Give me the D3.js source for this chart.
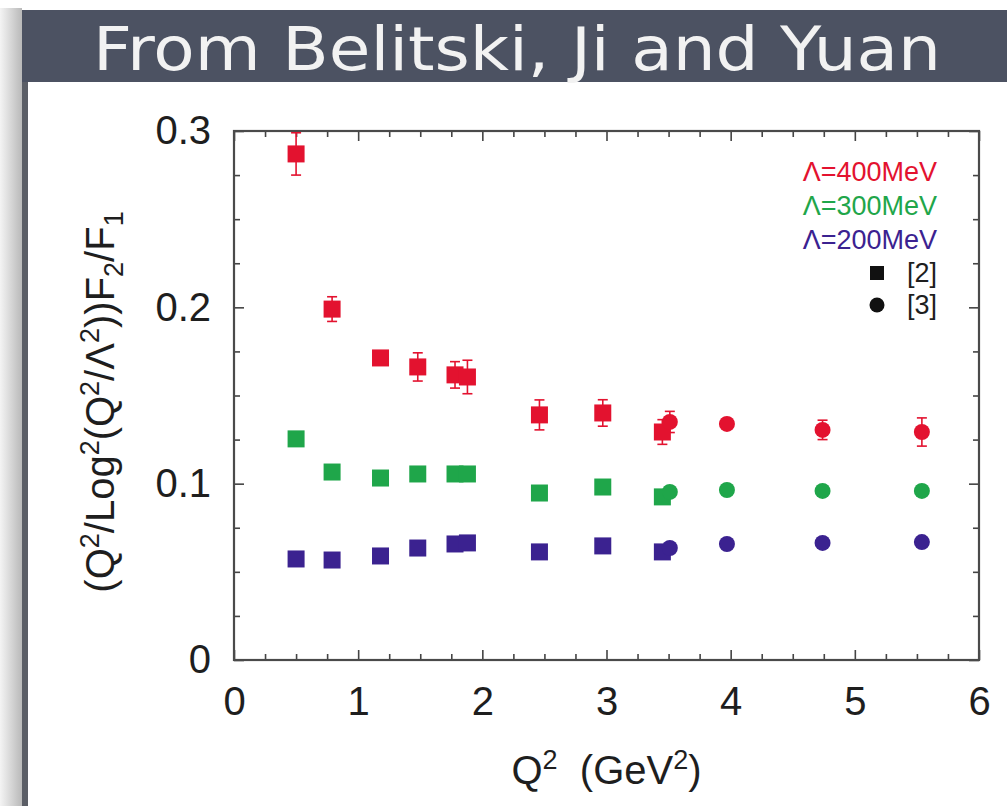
<!DOCTYPE html>
<html>
<head>
  <meta charset="utf-8">
  <script src="https://d3js.org/d3.v7.min.js"></script>
  <style>
    body { margin: 0; background: #fff; }
    svg text { font-family: "Liberation Sans", Arial, sans-serif; }
    .axis text { font-size: 40px; fill: #1e1e1e; }
    .axis path { display: none; }
    .axis line { stroke: #444; stroke-width: 1.6; }
  </style>
</head>
<body>
<div id="chart"></div>
<script>
  // --- data ---
  const xTicks = [0, 1, 2, 3, 4, 5, 6];
  const yTicks = [0, 0.1, 0.2, 0.3];

  // Q^2 positions: squares = ref [2], circles = ref [3]
  const qSquare = [0.5, 0.79, 1.18, 1.48, 1.78, 1.88, 2.46, 2.97, 3.45];
  const qCircle = [3.51, 3.97, 4.74, 5.54];

  const lam400Sq = [0.287, 0.199, 0.1713, 0.1662, 0.1617, 0.1605, 0.139, 0.1401, 0.1293];
  const lam400SqErr = [0.012, 0.007, 0.003, 0.008, 0.0075, 0.0095, 0.0085, 0.0075, 0.007];
  const lam400Ci = [0.135, 0.1339, 0.1305, 0.1293];
  const lam400CiErr = [0.006, 0.003, 0.0055, 0.008];

  const lam300Sq = [0.1254, 0.1066, 0.1032, 0.1055, 0.1055, 0.1055, 0.0947, 0.0981, 0.0925];
  const lam300SqErr = [0.003, 0.002, 0.002, 0.002, 0.002, 0.004, 0.003, 0.002, 0.003];
  const lam300Ci = [0.0953, 0.0964, 0.0959, 0.0959];
  const lam300CiErr = [0.003, 0.002, 0.002, 0.003];

  const lam200Sq = [0.0573, 0.0567, 0.059, 0.0635, 0.0658, 0.0664, 0.0613, 0.0647, 0.0613];
  const lam200SqErr = [0.001, 0.001, 0.001, 0.001, 0.001, 0.001, 0.001, 0.001, 0.001];
  const lam200Ci = [0.0635, 0.0658, 0.0664, 0.0669];
  const lam200CiErr = [0.001, 0.001, 0.001, 0.001];

  const seriesNames = ["\u039B=400MeV", "\u039B=300MeV", "\u039B=200MeV"];
  const seriesColors = ["#e3122f", "#1fa64a", "#3b2290"];

  const width = 1007, height = 806;
  const margin = { top: 131, right: 28, bottom: 146, left: 234 };

  const svg = d3.select("#chart").append("svg")
    .attr("width", width)
    .attr("height", height);

  // slide decoration: left shadow, frame edge, title bar
  const grad = svg.append("defs").append("linearGradient")
    .attr("id", "shade").attr("x1", 0).attr("x2", 1);
  grad.append("stop").attr("offset", 0).attr("stop-color", "#f4f4f4");
  grad.append("stop").attr("offset", 1).attr("stop-color", "#b9b9b9");
  svg.append("rect").attr("x", 0).attr("y", 8).attr("width", 22).attr("height", height - 8)
    .attr("fill", "url(#shade)");
  svg.append("rect").attr("x", 22).attr("y", 10).attr("width", 6).attr("height", height - 10)
    .attr("fill", "#5b5e66");
  svg.append("rect").attr("x", 22).attr("y", 10).attr("width", width - 22).attr("height", 72)
    .attr("fill", "#4c5262");
  svg.append("text")
    .attr("x", 93).attr("y", 70)
    .attr("textLength", 848).attr("lengthAdjust", "spacingAndGlyphs")
    .style("font-family", "'DejaVu Sans', sans-serif")
    .style("font-size", "60px")
    .style("fill", "#f2f2f2")
    .text("From Belitski, Ji and Yuan");

  const w = width - margin.left - margin.right;
  const h = height - margin.top - margin.bottom;

  const g = svg.append("g").attr("transform", "translate(" + margin.left + "," + margin.top + ")");

  const x = d3.scaleLinear().domain([0, 6]).range([0, w]);
  const y = d3.scaleLinear().domain([0, 0.3]).range([h, 0]);

  const xMinor = d3.range(0, 6.001, 0.25).filter(v => Math.abs(v - Math.round(v)) > 1e-6);
  const yMinor = d3.range(0, 0.3001, 0.025).filter(v => Math.abs(v * 10 - Math.round(v * 10)) > 1e-6);

  // inward ticks on all four sides
  g.append("g").attr("class", "axis").attr("transform", "translate(0," + h + ")")
    .call(d3.axisBottom(x).tickValues(xTicks).tickSize(-10).tickPadding(27).tickFormat(d3.format("d")));
  g.append("g").attr("class", "axis").attr("transform", "translate(0," + h + ")")
    .call(d3.axisBottom(x).tickValues(xMinor).tickSize(-6).tickFormat(""));
  g.append("g").attr("class", "axis")
    .call(d3.axisTop(x).tickValues(xTicks).tickSize(-10).tickFormat(""));
  g.append("g").attr("class", "axis")
    .call(d3.axisTop(x).tickValues(xMinor).tickSize(-6).tickFormat(""));

  g.append("g").attr("class", "axis")
    .call(d3.axisLeft(y).tickValues(yTicks).tickSize(-10).tickPadding(23)
      .tickFormat(d => d === 0 ? "0" : d.toFixed(1)));
  g.append("g").attr("class", "axis")
    .call(d3.axisLeft(y).tickValues(yMinor).tickSize(-6).tickFormat(""));
  g.append("g").attr("class", "axis").attr("transform", "translate(" + w + ",0)")
    .call(d3.axisRight(y).tickValues(yTicks).tickSize(-10).tickFormat(""));
  g.append("g").attr("class", "axis").attr("transform", "translate(" + w + ",0)")
    .call(d3.axisRight(y).tickValues(yMinor).tickSize(-6).tickFormat(""));

  g.append("rect").attr("width", w).attr("height", h)
    .attr("fill", "none").attr("stroke", "#4a4a4a").attr("stroke-width", 2.2);

  // axis titles
  const xl = svg.append("text")
    .attr("x", margin.left + x(3)).attr("y", 784)
    .attr("text-anchor", "middle")
    .style("font-size", "40px").style("fill", "#1e1e1e");
  xl.append("tspan").text("Q");
  xl.append("tspan").attr("dy", -15).style("font-size", "27px").text("2");
  xl.append("tspan").attr("dy", 15).text("\u00A0 (GeV");
  xl.append("tspan").attr("dy", -15).style("font-size", "27px").text("2");
  xl.append("tspan").attr("dy", 15).text(")");

  const yl = svg.append("text")
    .attr("transform", "translate(114,402) rotate(-90)")
    .attr("text-anchor", "middle")
    .style("font-size", "40px").style("fill", "#1e1e1e");
  // -1 = superscript, 1 = subscript
  const parts = [["(Q", 0], ["2", -1], ["/Log", 0], ["2", -1], ["(Q", 0], ["2", -1],
    ["/\u039B", 0], ["2", -1], ["))F", 0], ["2", 1], ["/F", 0], ["1", 1]];
  let level = 0;
  parts.forEach(p => {
    const shift = p[1] === -1 ? -15 : p[1] * 9;
    yl.append("tspan")
      .attr("dy", shift - level)
      .style("font-size", p[1] === 0 ? "40px" : "27px")
      .text(p[0]);
    level = shift;
  });

  // data groups
  const groups = [
    { sq: lam400Sq, sqErr: lam400SqErr, ci: lam400Ci, ciErr: lam400CiErr, color: seriesColors[0] },
    { sq: lam300Sq, sqErr: lam300SqErr, ci: lam300Ci, ciErr: lam300CiErr, color: seriesColors[1] },
    { sq: lam200Sq, sqErr: lam200SqErr, ci: lam200Ci, ciErr: lam200CiErr, color: seriesColors[2] }
  ];

  const cap = 5;
  groups.forEach(s => {
    const sqPts = qSquare.map((q, i) => ({ q: q, v: s.sq[i], e: s.sqErr[i] }));
    const ciPts = qCircle.map((q, i) => ({ q: q, v: s.ci[i], e: s.ciErr[i] }));
    const all = sqPts.concat(ciPts);
    const eg = g.append("g").attr("stroke", s.color).attr("stroke-width", 1.6);
    eg.selectAll("line.bar").data(all).enter().append("line")
      .attr("x1", d => x(d.q)).attr("x2", d => x(d.q))
      .attr("y1", d => y(d.v - d.e)).attr("y2", d => y(d.v + d.e));
    eg.selectAll("line.top").data(all).enter().append("line")
      .attr("x1", d => x(d.q) - cap).attr("x2", d => x(d.q) + cap)
      .attr("y1", d => y(d.v + d.e)).attr("y2", d => y(d.v + d.e));
    eg.selectAll("line.bot").data(all).enter().append("line")
      .attr("x1", d => x(d.q) - cap).attr("x2", d => x(d.q) + cap)
      .attr("y1", d => y(d.v - d.e)).attr("y2", d => y(d.v - d.e));

    g.append("g").selectAll("rect").data(sqPts).enter().append("rect")
      .attr("x", d => x(d.q) - 8.5).attr("y", d => y(d.v) - 8.5)
      .attr("width", 17).attr("height", 17)
      .attr("fill", s.color);
    g.append("g").selectAll("circle").data(ciPts).enter().append("circle")
      .attr("cx", d => x(d.q)).attr("cy", d => y(d.v)).attr("r", 8)
      .attr("fill", s.color);
  });

  // legend
  const legX = 937;
  const legY = [172, 206, 240];
  seriesNames.forEach((n, i) => {
    svg.append("text").attr("x", legX).attr("y", legY[i]).attr("dy", "0.35em")
      .attr("text-anchor", "end")
      .style("font-size", "27px").style("fill", seriesColors[i])
      .text(n);
  });
  const refNames = ["[2]", "[3]"];
  const refY = [273, 305];
  refNames.forEach((n, i) => {
    svg.append("text").attr("x", legX).attr("y", refY[i]).attr("dy", "0.35em")
      .attr("text-anchor", "end")
      .style("font-size", "27px").style("fill", "#1e1e1e")
      .text(n);
  });
  svg.append("rect").attr("x", 877 - 7).attr("y", refY[0] - 7).attr("width", 14).attr("height", 14)
    .attr("fill", "#111");
  svg.append("circle").attr("cx", 877).attr("cy", refY[1]).attr("r", 7.5).attr("fill", "#111");
</script>
</body>
</html>
